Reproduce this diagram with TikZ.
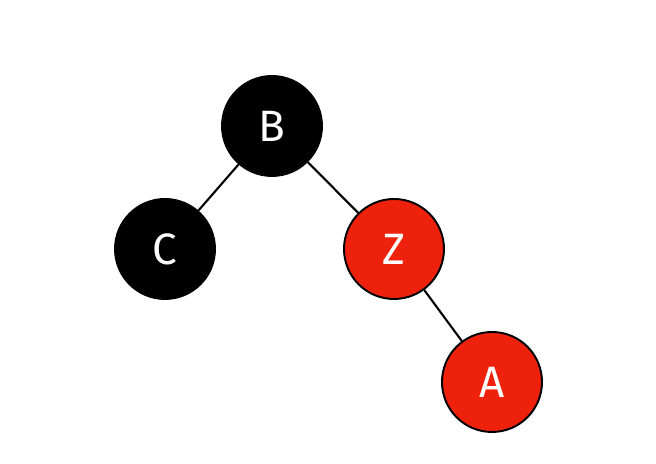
\documentclass[tikz,border=0pt]{standalone}
\usepackage{fontspec}
\setmainfont{Fira Sans}
\usepackage{tikz}
\usetikzlibrary{shapes,arrows, positioning}
\definecolor{rbred}{RGB}{238,34,12}
\tikzstyle{bnode} = [circle, fill=black, draw=black, line width=1.1pt, minimum size=2cm, inner sep=0pt, text=white, font=\fontsize{25}{25}\selectfont]
\tikzstyle{rnode} = [circle, fill=rbred, draw=black, line width=1.1pt, minimum size=2cm, inner sep=0pt, text=white, font=\fontsize{25}{25}\selectfont]
\tikzstyle{line} = [draw, line width=1.2pt]

\begin{document}
\begin{tikzpicture}
			\useasboundingbox (0, 0) rectangle (13.12, 9.28);
			\node [bnode] (b) at (5.44, 6.76) {B};
			\node [bnode] (c) at (3.30, 4.30) {C};
			\node [rnode] (z) at (7.88, 4.30) {Z};
			\node [rnode] (a) at (9.84, 1.64) {A};
			
			\path [line] (b) -- (c);
			\path [line] (b) -- (z);
			\path [line] (z) -- (a);
		\end{tikzpicture}
\end{document}
